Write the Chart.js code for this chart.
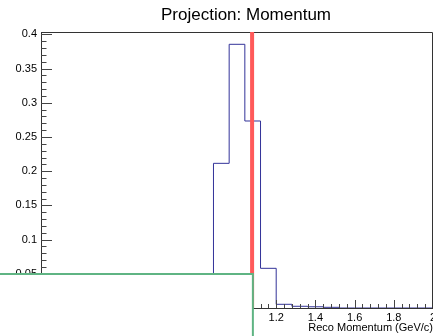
<!DOCTYPE html>
<html>
<head>
<meta charset="utf-8">
<title>Projection: Momentum</title>
<script src="https://cdn.jsdelivr.net/npm/chart.js"></script>
<style>
  html, body { margin: 0; padding: 0; background: #fff; }
</style>
</head>
<body>
<canvas id="c" width="433" height="336"></canvas>
<script>
// data
const plotTitle = 'Projection: Momentum';
const xAxisTitle = 'Reco Momentum (GeV/c)';
const binRange = [0, 2];
const binCounts = [
  0, 0, 0, 0, 0, 0, 0, 0.002, 0.006, 0.012, 0.03,
  0.2115, 0.3855, 0.2734, 0.058,
  0.0054, 0.0025, 0.0018, 0.001,
  0, 0, 0, 0, 0, 0
];
const cutValue = 1.077;          // red cut line
const boxCorner = [1.081, 0.0497]; // top-right corner of the covering box
const yRange = [0, 0.4035];

const FONT = 'Liberation Sans, Arial, Helvetica, sans-serif';

// histogram outline as step points at the bin low edges
const binWidth = (binRange[1] - binRange[0]) / binCounts.length;
const histPoints = binCounts.map((v, i) => ({ x: binRange[0] + i * binWidth, y: v }));
histPoints.push({ x: binRange[1], y: binCounts[binCounts.length - 1] });

// ROOT prints 0.4, 0.35, 0.3 ...
const shortNum = v => String(+v.toFixed(2));

const rootStyle = {
  id: 'rootStyle',
  afterDraw(chart) {
    const { ctx, chartArea: a, scales: { x, y } } = chart;
    ctx.save();

    // inward ticks, ROOT style
    ctx.strokeStyle = '#444';
    ctx.lineWidth = 1;
    ctx.beginPath();
    for (let k = 0; k <= 40; k++) {
      const v = k * 0.01;
      if (v > yRange[1]) break;
      const py = Math.round(y.getPixelForValue(v)) + 0.5;
      const len = k % 5 === 0 ? 11 : 5.5;
      ctx.moveTo(a.left, py);
      ctx.lineTo(a.left + len, py);
    }
    for (let k = 0; k <= 50; k++) {
      const v = k * 0.04;
      const px = Math.round(x.getPixelForValue(v)) + 0.5;
      const len = k % 5 === 0 ? 8 : 4;
      ctx.moveTo(px, a.bottom);
      ctx.lineTo(px, a.bottom - len);
    }
    ctx.stroke();

    // frame top and right
    ctx.strokeStyle = '#333';
    ctx.beginPath();
    ctx.moveTo(a.left, a.top + 0.5);
    ctx.lineTo(a.right - 0.5, a.top + 0.5);
    ctx.lineTo(a.right - 0.5, a.bottom);
    ctx.stroke();

    // red cut line
    const cx = x.getPixelForValue(cutValue);
    ctx.strokeStyle = '#ff5a5a';
    ctx.lineWidth = 4;
    ctx.beginPath();
    ctx.moveTo(cx, a.top);
    ctx.lineTo(cx, a.bottom);
    ctx.stroke();

    // white box with green border covering the lower left
    const bx = x.getPixelForValue(boxCorner[0]);
    const by = y.getPixelForValue(boxCorner[1]);
    ctx.fillStyle = '#fff';
    ctx.fillRect(-2, by, bx + 2, chart.height - by + 2);
    ctx.strokeStyle = '#5fb483';
    ctx.lineWidth = 2;
    ctx.beginPath();
    ctx.moveTo(-2, by);
    ctx.lineTo(bx, by);
    ctx.lineTo(bx, chart.height + 2);
    ctx.stroke();

    // title
    ctx.fillStyle = '#000';
    ctx.font = '17px ' + FONT;
    ctx.textAlign = 'center';
    ctx.textBaseline = 'alphabetic';
    ctx.fillText(plotTitle, 246, 19.5);
    ctx.restore();
  }
};

new Chart(document.getElementById('c'), {
  type: 'line',
  data: {
    datasets: [{
      data: histPoints,
      stepped: 'before',
      borderColor: '#333399',
      borderWidth: 1,
      pointRadius: 0,
      fill: false
    }]
  },
  options: {
    responsive: false,
    animation: false,
    devicePixelRatio: 1,
    layout: { padding: { top: 32, left: 0, right: 0, bottom: 0 } },
    plugins: { legend: { display: false }, tooltip: { enabled: false } },
    scales: {
      x: {
        type: 'linear',
        min: binRange[0],
        max: binRange[1],
        grid: { display: false, drawTicks: false },
        border: { display: true, color: '#333' },
        ticks: {
          stepSize: 0.2,
          includeBounds: false,
          autoSkip: false,
          maxRotation: 0,
          padding: 3,
          color: '#000',
          font: { family: FONT, size: 11 },
          callback: shortNum
        },
        title: {
          display: true,
          text: xAxisTitle,
          align: 'end',
          color: '#000',
          padding: { top: 0, bottom: 1 },
          font: { family: FONT, size: 11 }
        },
        afterFit(s) { s.height = 28; s.paddingLeft = 0; s.paddingRight = 0; }
      },
      y: {
        min: yRange[0],
        max: yRange[1],
        grid: { display: false, drawTicks: false },
        border: { display: true, color: '#333' },
        ticks: {
          stepSize: 0.05,
          includeBounds: false,
          padding: 4,
          color: '#000',
          font: { family: FONT, size: 11 },
          callback: shortNum
        },
        afterFit(s) { s.width = 41; s.paddingTop = 0; s.paddingBottom = 0; }
      }
    }
  },
  plugins: [rootStyle]
});
</script>
</body>
</html>
